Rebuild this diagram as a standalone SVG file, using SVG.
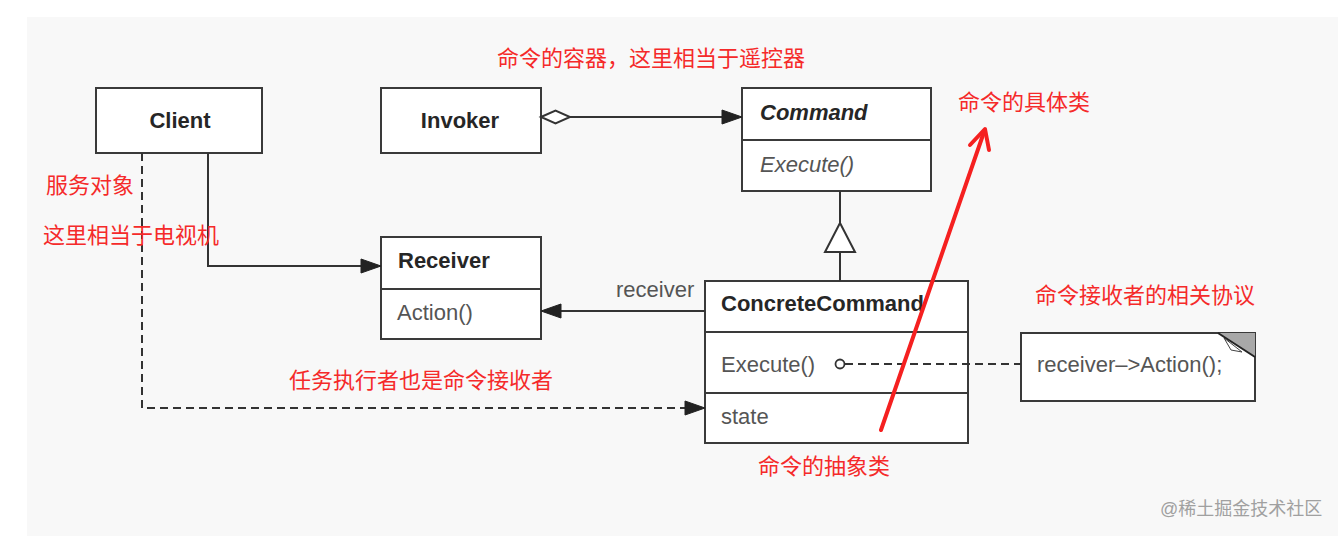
<svg xmlns="http://www.w3.org/2000/svg" width="1338" height="536" viewBox="0 0 1338 536">
<style>
.box{fill:#fff;stroke:#3a3a3a;stroke-width:2}
.div{stroke:#3a3a3a;stroke-width:2}
.bold{font-family:"Liberation Sans",Arial,sans-serif;font-weight:bold;font-size:22px;fill:#262626}
.reg{font-family:"Liberation Sans",Arial,sans-serif;font-size:22px;fill:#555}
.red{font-family:"Liberation Sans","Noto Sans CJK SC",sans-serif;font-size:22px;fill:#f52a2a}
.wm{font-family:"Liberation Sans","Noto Sans CJK SC",sans-serif;font-size:18px;fill:#a0a0a0}
.conn{fill:none;stroke:#333;stroke-width:2}
.dash{stroke-dasharray:8 5}
.head{fill:#222;stroke:#222;stroke-width:1}
.hollow{fill:#fff;stroke:#333;stroke-width:2}
</style>
<rect x="0" y="0" width="1338" height="536" fill="#fff"/>
<rect x="27" y="17" width="1311" height="519" fill="#f8f8f8"/>

<g id="client">
  <rect class="box" x="96" y="88" width="166" height="65"/>
  <text class="bold" x="180" y="128" text-anchor="middle">Client</text>
</g>
<g id="invoker">
  <rect class="box" x="381" y="88" width="160" height="65"/>
  <text class="bold" x="460" y="128" text-anchor="middle">Invoker</text>
</g>
<g id="command">
  <rect class="box" x="742" y="88" width="189" height="103"/>
  <line class="div" x1="742" y1="140" x2="931" y2="140"/>
  <text class="bold" x="760" y="120" font-style="italic">Command</text>
  <text class="reg" x="760" y="172" font-style="italic">Execute()</text>
</g>
<g id="receiver">
  <rect class="box" x="381" y="237" width="160" height="102"/>
  <line class="div" x1="381" y1="289" x2="541" y2="289"/>
  <text class="bold" x="398" y="268">Receiver</text>
  <text class="reg" x="397" y="320">Action()</text>
</g>
<g id="concretecommand">
  <rect class="box" x="705" y="281" width="263" height="162"/>
  <line class="div" x1="705" y1="332" x2="968" y2="332"/>
  <line class="div" x1="705" y1="393" x2="968" y2="393"/>
  <text class="bold" x="721" y="311">ConcreteCommand</text>
  <text class="reg" x="721" y="372">Execute()</text>
  <text class="reg" x="721" y="424">state</text>
</g>
<g id="note">
  <rect class="box" x="1021" y="333" width="234" height="68"/>
  <polygon points="1218,333 1255,333 1255,357" fill="#a8a8a8"/>
  <polygon points="1224,338 1242,352 1231,350" fill="#fff" stroke="#444" stroke-width="1"/>
  <line x1="1218" y1="333" x2="1255" y2="357" stroke="#222" stroke-width="2"/>
  <text class="reg" x="1037" y="372">receiver–&gt;Action();</text>
</g>

<g id="connectors">
  <line class="conn" x1="570" y1="117" x2="724" y2="117"/>
  <polygon class="hollow" points="541,117 555.5,110.5 570,117 555.5,123.5"/>
  <polygon class="head" points="742,117 722,110 722,124"/>
  <polyline class="conn" points="208,153 208,266 363,266"/>
  <polygon class="head" points="381,266 361,259 361,273"/>
  <polyline class="conn dash" points="142,153 142,408 688,408"/>
  <polygon class="head" points="705,408 685,401 685,415"/>
  <line class="conn" x1="705" y1="311" x2="559" y2="311"/>
  <polygon class="head" points="541,311 561,304 561,318"/>
  <text class="reg" x="616" y="297">receiver</text>
  <line class="conn" x1="840" y1="191" x2="840" y2="223"/>
  <polygon class="hollow" points="840,223 825,252 855,252"/>
  <line class="conn" x1="840" y1="252" x2="840" y2="281"/>
  <line class="conn dash" x1="845" y1="364" x2="1021" y2="364"/>
  <circle cx="840" cy="364" r="4.5" fill="#fff" stroke="#333" stroke-width="1.8"/>
</g>

<g id="annotations">
  <line x1="881" y1="430" x2="984" y2="132" stroke="#f52020" stroke-width="4" stroke-linecap="round"/>
  <polyline points="970,145 985,129 989,150" fill="none" stroke="#f52020" stroke-width="4" stroke-linecap="round" stroke-linejoin="round"/>
  <text class="red" x="497" y="66">命令的容器，这里相当于遥控器</text>
  <text class="red" x="958" y="110">命令的具体类</text>
  <text class="red" x="46" y="193">服务对象</text>
  <text class="red" x="43" y="243">这里相当于电视机</text>
  <text class="red" x="1035" y="303">命令接收者的相关协议</text>
  <text class="red" x="289" y="388">任务执行者也是命令接收者</text>
  <text class="red" x="758" y="474">命令的抽象类</text>
  <text class="wm" x="1160" y="515">@稀土掘金技术社区</text>
</g>
</svg>
